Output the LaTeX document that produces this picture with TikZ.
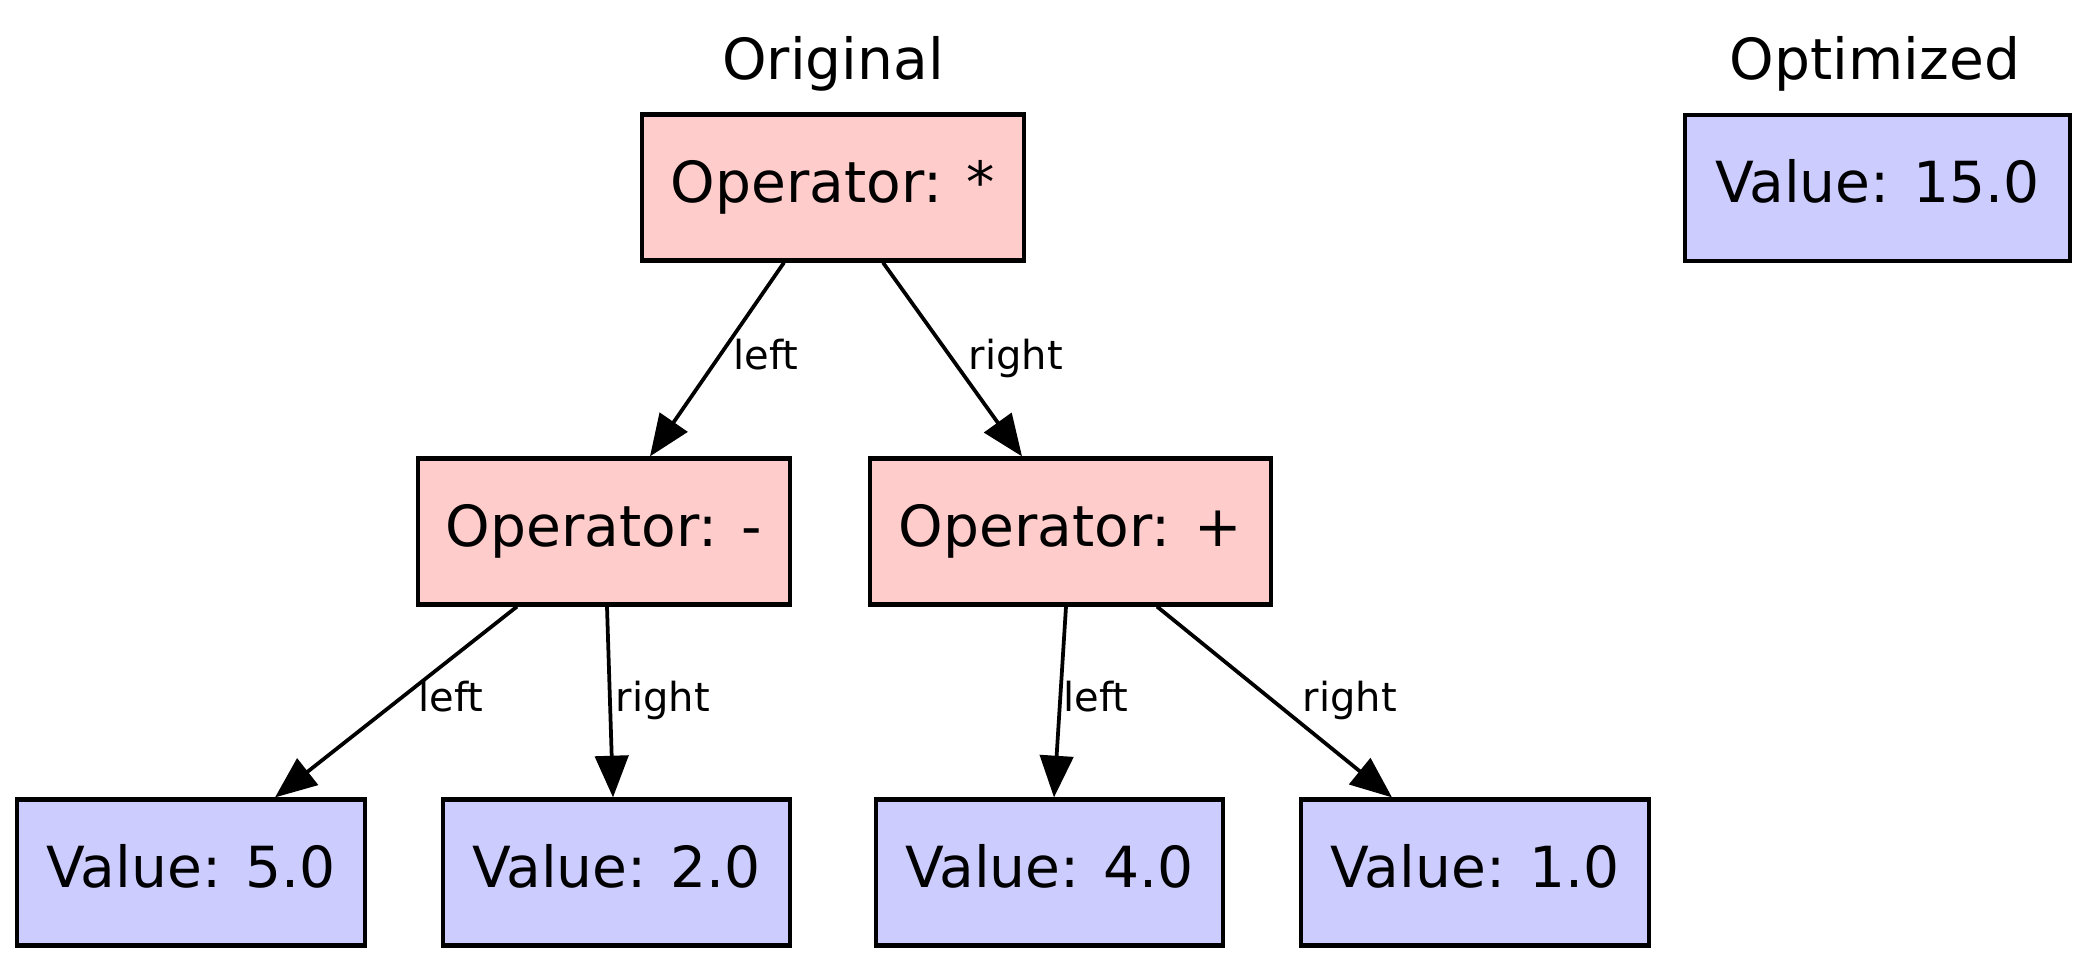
\documentclass[tikz,border=0pt]{standalone}
\usepackage{fontspec}
\setmainfont{DejaVu Sans}
\usetikzlibrary{arrows.meta,calc}
\definecolor{opfill}{HTML}{FFCCCC}
\definecolor{valfill}{HTML}{CCCCFF}
\begin{document}
\begin{tikzpicture}[x=0.24pt,y=-0.24pt,
  treebox/.style={draw=black, line width=1pt, inner sep=0pt,
    minimum height={146*0.24pt},
    font=\fontsize{13.6}{16}\selectfont, text height=10.2pt, text depth=3pt},
  opbox/.style={treebox, fill=opfill},
  valbox/.style={treebox, fill=valfill},
  link/.style={line width=0.9pt, -{Triangle[length=10pt,width=8pt]}},
  linklabel/.style={font=\fontsize{9.6}{11}\selectfont, inner sep=0pt, anchor=base west},
  heading/.style={font=\fontsize{13.6}{16}\selectfont, inner sep=0pt, anchor=base}]
\useasboundingbox (0,0) rectangle (2088,971);

% headings
\node[heading] (torig) at (833,80) {Original};
\node[heading] (topt) at (1875,80) {Optimized};

% original expression tree
\node[opbox, minimum width={382*0.24pt}] (opmul) at (833,187.5) {Operator: *};
\node[opbox, minimum width={372*0.24pt}] (opsub) at (604,531.5) {Operator: -};
\node[opbox, minimum width={401*0.24pt}] (opadd) at (1070.5,531.5) {Operator: +};
\node[valbox, minimum width={348*0.24pt}] (v5) at (191,872.5) {Value: 5.0};
\node[valbox, minimum width={347*0.24pt}] (v2) at (616.5,872.5) {Value: 2.0};
\node[valbox, minimum width={347*0.24pt}] (v4) at (1049.5,872.5) {Value: 4.0};
\node[valbox, minimum width={348*0.24pt}] (v1) at (1475,872.5) {Value: 1.0};

% optimized result
\node[valbox, minimum width={385*0.24pt}] (v15) at (1877.5,188) {Value: 15.0};

% tree edges
\draw[link] ($(opmul.south)+(-49,0)$) -- ($(opsub.north)+(46,0)$);
\draw[link] ($(opmul.south)+(50,0)$) -- ($(opadd.north)+(-48.5,0)$);
\draw[link] ($(opsub.south)+(-87,0)$) -- ($(v5.north)+(84,0)$);
\draw[link] ($(opsub.south)+(3,0)$) -- ($(v2.north)+(-3.5,0)$);
\draw[link] ($(opadd.south)+(-4.5,0)$) -- ($(v4.north)+(4.5,0)$);
\draw[link] ($(opadd.south)+(86.5,0)$) -- ($(v1.north)+(-83,0)$);

% edge labels
\node[linklabel] (l1) at (733,370) {left};
\node[linklabel] (r1) at (968,370) {right};
\node[linklabel] (l2) at (418,712) {left};
\node[linklabel] (r2) at (615,712) {right};
\node[linklabel] (l3) at (1063,712) {left};
\node[linklabel] (r3) at (1302,712) {right};
\end{tikzpicture}
\end{document}
